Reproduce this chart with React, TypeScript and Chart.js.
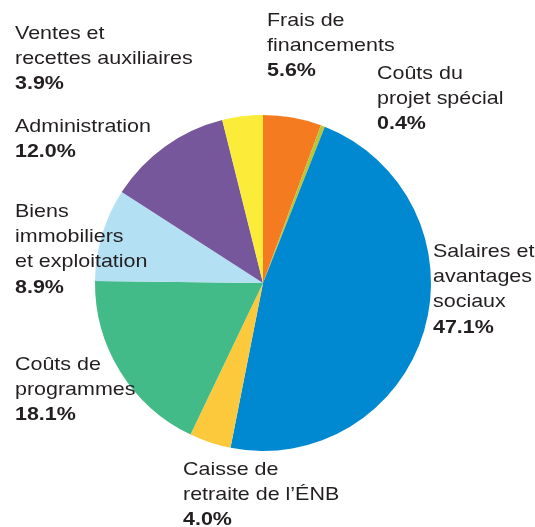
import React, { useEffect, useRef } from "react";
import { Chart, registerables } from "chart.js";

Chart.register(...registerables);

const categories: string[][] = [
  ["Frais de", "financements"],
  ["Coûts du", "projet spécial"],
  ["Salaires et", "avantages", "sociaux"],
  ["Caisse de", "retraite de l’ÉNB"],
  ["Coûts de", "programmes"],
  ["Biens", "immobiliers", "et exploitation"],
  ["Administration"],
  ["Ventes et", "recettes auxiliaires"],
];
const values: number[] = [5.6, 0.4, 47.1, 4.0, 18.1, 8.9, 12.0, 3.9];
const colors: string[] = [
  "#F47B20",
  "#B8C636",
  "#0088D1",
  "#FDC93C",
  "#43BB88",
  "#B3E0F3",
  "#76579B",
  "#FBEC3A",
];

// label anchors (left x, first baseline y) in canvas pixels
const labelLayout: { x: number; y: number }[] = [
  { x: 267, y: 26 },
  { x: 377, y: 79 },
  { x: 433, y: 257 },
  { x: 183, y: 475 },
  { x: 15, y: 370 },
  { x: 15, y: 217 },
  { x: 15, y: 132 },
  { x: 15, y: 39 },
];

const labelPlugin = {
  id: "sliceLabels",
  afterDraw(chart: any) {
    const ctx = chart.ctx as CanvasRenderingContext2D;
    const ds = chart.data.datasets[0];
    const lh = 25.2;
    const sx = 1.16;
    const draw = (t: string, x: number, y: number, bold: boolean) => {
      ctx.save();
      ctx.translate(x, y);
      ctx.scale(sx, 1);
      ctx.font = (bold ? "bold " : "") + "18.5px 'Liberation Sans', Arial, sans-serif";
      ctx.fillStyle = "#231F20";
      ctx.textAlign = "left";
      ctx.textBaseline = "alphabetic";
      ctx.fillText(t, 0, 0);
      ctx.restore();
    };
    (chart.data.labels as string[][]).forEach((lines, i) => {
      const pos = labelLayout[i];
      lines.forEach((ln, j) => draw(ln, pos.x, pos.y + j * lh, false));
      draw(
        (ds.data[i] as number).toFixed(1) + "%",
        pos.x,
        pos.y + lines.length * lh,
        true
      );
    });
  },
};

export default function App() {
  const ref = useRef<HTMLCanvasElement | null>(null);
  useEffect(() => {
    document.body.style.margin = "0";
    const chart = new Chart(ref.current!, {
      type: "pie",
      data: {
        labels: categories as any,
        datasets: [
          {
            data: values,
            backgroundColor: colors,
            borderWidth: 0,
          },
        ],
      },
      options: {
        animation: false,
        responsive: false,
        maintainAspectRatio: false,
        layout: { padding: { left: 95, right: 104, top: 115, bottom: 76 } },
        plugins: {
          legend: { display: false },
          tooltip: { enabled: false },
        },
      },
      plugins: [labelPlugin],
    });
    return () => chart.destroy();
  }, []);
  return (
    <div style={{ width: 535, height: 527 }}>
      <canvas ref={ref} width={535} height={527} style={{ display: "block" }} />
    </div>
  );
}
